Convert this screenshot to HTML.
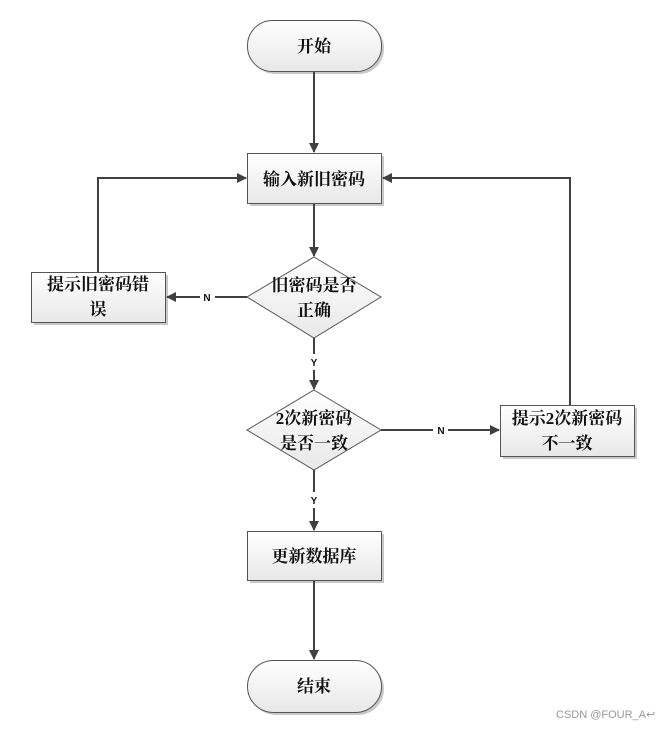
<!DOCTYPE html>
<html><head><meta charset="utf-8"><style>
html,body{margin:0;padding:0;background:#fff;}
svg{display:block;}
text{font-family:"Liberation Serif","Noto Serif CJK SC",serif;font-weight:bold;font-size:17px;fill:#111;}
.s{font-family:"Liberation Sans",sans-serif;font-size:10px;font-weight:bold;}
</style></head><body>
<svg width="656" height="729" viewBox="0 0 656 729" xmlns="http://www.w3.org/2000/svg">
<defs>
<linearGradient id="g" x1="0" y1="0" x2="0" y2="1"><stop offset="0" stop-color="#ffffff"/><stop offset="1" stop-color="#e8e8e8"/></linearGradient>
<marker id="a" markerWidth="10" markerHeight="10" refX="9" refY="5" orient="auto" markerUnits="userSpaceOnUse"><path d="M0,0 L10,5 L0,10 z" fill="#404040"/></marker>
</defs>
<g fill="#c8c8c8">
<rect x="250" y="23" width="134" height="51" rx="25"/>
<rect x="250" y="156" width="134" height="50"/>
<rect x="34" y="275" width="134" height="50"/>
<rect x="503" y="408" width="134" height="51"/>
<rect x="250" y="534" width="134" height="49"/>
<rect x="250" y="663" width="134" height="52" rx="26"/>
</g>
<g fill="url(#g)" stroke="#555" stroke-width="1">
<rect x="247.5" y="20.5" width="134" height="51" rx="25"/>
<rect x="247.5" y="153.5" width="134" height="50"/>
<polygon points="314,257 381,297 314,338 247,297"/>
<rect x="31.5" y="272.5" width="134" height="50"/>
<polygon points="314,390 381,430 314,470 247,430"/>
<rect x="500.5" y="405.5" width="134" height="51"/>
<rect x="247.5" y="531.5" width="134" height="49"/>
<rect x="247.5" y="660.5" width="134" height="52" rx="26"/>
</g>
<g stroke="#404040" stroke-width="2" fill="none">
<line x1="314" y1="72" x2="314" y2="152" marker-end="url(#a)"/>
<line x1="314" y1="204" x2="314" y2="256" marker-end="url(#a)"/>
<line x1="247" y1="297" x2="215" y2="297"/>
<line x1="200" y1="297" x2="167" y2="297" marker-end="url(#a)"/>
<polyline points="98,272 98,178 246,178" marker-end="url(#a)"/>
<line x1="314" y1="338" x2="314" y2="354"/>
<line x1="314" y1="370" x2="314" y2="389" marker-end="url(#a)"/>
<line x1="381" y1="430" x2="433" y2="430"/>
<line x1="448" y1="430" x2="499" y2="430" marker-end="url(#a)"/>
<polyline points="570,405 570,178 383,178" marker-end="url(#a)"/>
<line x1="314" y1="470" x2="314" y2="492"/>
<line x1="314" y1="508" x2="314" y2="530" marker-end="url(#a)"/>
<line x1="314" y1="581" x2="314" y2="659" marker-end="url(#a)"/>
</g>
<text x="314" y="52" text-anchor="middle">开始</text>
<text x="314" y="185" text-anchor="middle">输入新旧密码</text>
<text x="314" y="291" text-anchor="middle">旧密码是否</text>
<text x="314" y="316" text-anchor="middle">正确</text>
<text x="98" y="290" text-anchor="middle">提示旧密码错</text>
<text x="98" y="315" text-anchor="middle">误</text>
<text x="314" y="424" text-anchor="middle">2次新密码</text>
<text x="314" y="449" text-anchor="middle">是否一致</text>
<text x="567" y="424" text-anchor="middle">提示2次新密码</text>
<text x="567" y="449" text-anchor="middle">不一致</text>
<text x="314" y="562" text-anchor="middle">更新数据库</text>
<text x="314" y="692" text-anchor="middle">结束</text>
<text class="s" x="207" y="301" text-anchor="middle">N</text>
<text class="s" x="314" y="366" text-anchor="middle">Y</text>
<text class="s" x="441" y="434" text-anchor="middle">N</text>
<text class="s" x="314" y="504" text-anchor="middle">Y</text>
<text x="556" y="718" style="font-family:'Liberation Sans',sans-serif;font-weight:normal;font-size:11px;fill:#999">CSDN @FOUR_A↩</text>
</svg>
</body></html>
